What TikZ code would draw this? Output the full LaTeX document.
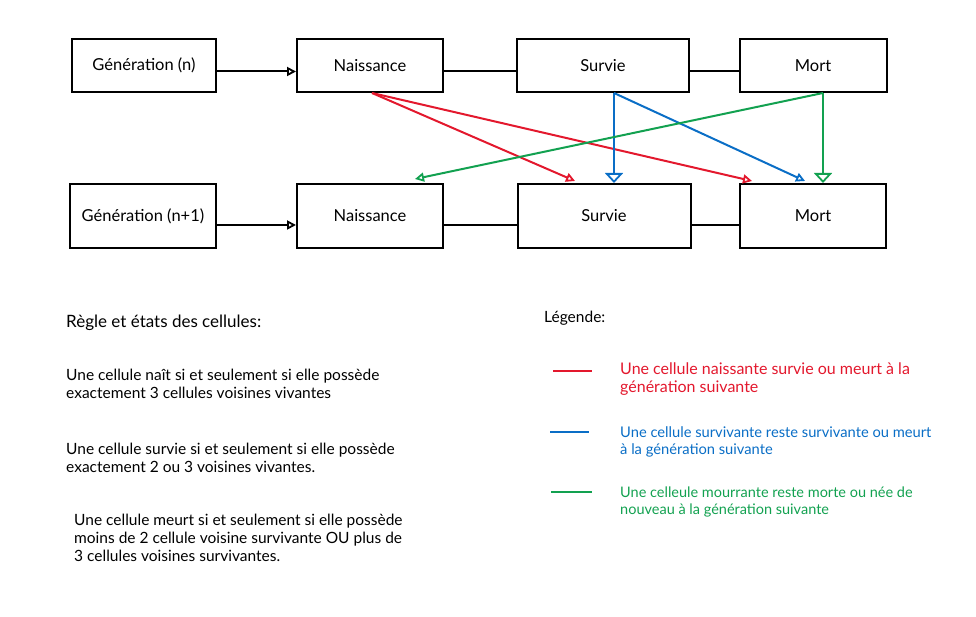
\documentclass[tikz,border=0pt]{standalone}
\usepackage{fontspec}
\setmainfont{Lato}
\usetikzlibrary{arrows.meta}
\definecolor{cred}{HTML}{E3182D}
\definecolor{cblue}{HTML}{0A6EC6}
\definecolor{cgreen}{HTML}{12A150}
\tikzset{
  box/.style={draw=black, line width=2pt, inner sep=0pt, font=\fontsize{16.5}{18}\selectfont},
  conn/.style={line width=2pt},
  tip/.style={-{Triangle[open,length=9pt,width=9pt,line width=1.8pt]}},
  bigtip/.style={-{Triangle[open,length=10pt,width=18pt,line width=1.8pt]}},
  body/.style={anchor=base west, align=left, inner sep=0pt, font=\fontsize{15.5}{18}\selectfont},
}
\begin{document}
\begin{tikzpicture}[x=1pt,y=-1pt]
\useasboundingbox (0,0) rectangle (976,617);
% row 1
\node[box, minimum width=144pt, minimum height=53pt] (g1) at (144,65.5) {Génération (n)};
\node[box, minimum width=146pt, minimum height=53pt] (n1) at (370,65.5) {Naissance};
\node[box, minimum width=172pt, minimum height=53pt] (s1) at (603,65.5) {Survie};
\node[box, minimum width=147pt, minimum height=53pt] (m1) at (813,65.5) {Mort};
% row 2
\node[box, minimum width=146pt, minimum height=64pt] (g2) at (143,216) {Génération (n+1)};
\node[box, minimum width=146pt, minimum height=64pt] (n2) at (370,216) {Naissance};
\node[box, minimum width=173pt, minimum height=64pt] (s2) at (604,216) {Survie};
\node[box, minimum width=146pt, minimum height=64pt] (m2) at (813,216) {Mort};
% black connectors
\draw[conn, tip] ([yshift=-6pt]g1.east) -- ([yshift=-6pt]n1.west);
\draw[conn] ([yshift=-6pt]n1.east) -- ([yshift=-6pt]s1.west);
\draw[conn] ([yshift=-6pt]s1.east) -- ([yshift=-6pt]m1.west);
\draw[conn, tip] ([yshift=-9pt]g2.east) -- ([yshift=-9pt]n2.west);
\draw[conn] ([yshift=-9pt]n2.east) -- ([yshift=-9pt]s2.west);
\draw[conn] ([yshift=-9pt]s2.east) -- ([yshift=-9pt]m2.west);
% red
\draw[conn, cred, tip] ([xshift=2pt]n1.south) -- ([xshift=-29pt,yshift=2pt]s2.north);
\draw[conn, cred, tip] ([xshift=2pt]n1.south) -- ([xshift=-61pt,yshift=2pt]m2.north);
% blue
\draw[conn, cblue, bigtip] ([xshift=11pt]s1.south) -- ([xshift=10pt]s2.north);
\draw[conn, cblue, tip] ([xshift=11pt]s1.south) -- ([xshift=-8pt,yshift=2pt]m2.north);
% green
\draw[conn, cgreen, bigtip] ([xshift=10pt]m1.south) -- ([xshift=10pt]m2.north);
\draw[conn, cgreen, tip] ([xshift=10pt]m1.south) -- ([xshift=45pt,yshift=4pt]n2.north);
% left texts
\node[body, font=\fontsize{17}{18}\selectfont] (rt) at (66,327) {Règle et états des cellules:};
\node[body] (p1) at (66,398) {Une cellule naît si et seulement si elle possède\\exactement 3 cellules voisines vivantes};
\node[body] (p2) at (66,472) {Une cellule survie si et seulement si elle possède\\exactement 2 ou 3 voisines vivantes.};
\node[body] (p3) at (74,561) {Une cellule meurt si et seulement si elle possède\\moins de 2 cellule voisine survivante OU plus de\\3 cellules voisines survivantes.};
% legend
\node[body] (lg) at (544,323) {Légende:};
\coordinate (ra) at (553,371); \coordinate (rb) at (592,371);
\coordinate (ba) at (550,432); \coordinate (bb) at (589,432);
\coordinate (ga) at (551,492); \coordinate (gb) at (592,492);
\draw[conn, cred] (ra) -- (rb);
\draw[conn, cblue] (ba) -- (bb);
\draw[conn, cgreen] (ga) -- (gb);
\node[body, text=cred, font=\fontsize{16}{18}\selectfont] (lr) at (620,392) {Une cellule naissante survie ou meurt à la\\génération suivante};
\node[body, text=cblue, font=\fontsize{14.7}{17}\selectfont] (lb) at (620,454) {Une cellule survivante reste survivante ou meurt\\à la génération suivante};
\node[body, text=cgreen, font=\fontsize{14.5}{17}\selectfont] (lgn) at (620,514) {Une celleule mourrante reste morte ou née de\\nouveau à la génération suivante};
\end{tikzpicture}
\end{document}
